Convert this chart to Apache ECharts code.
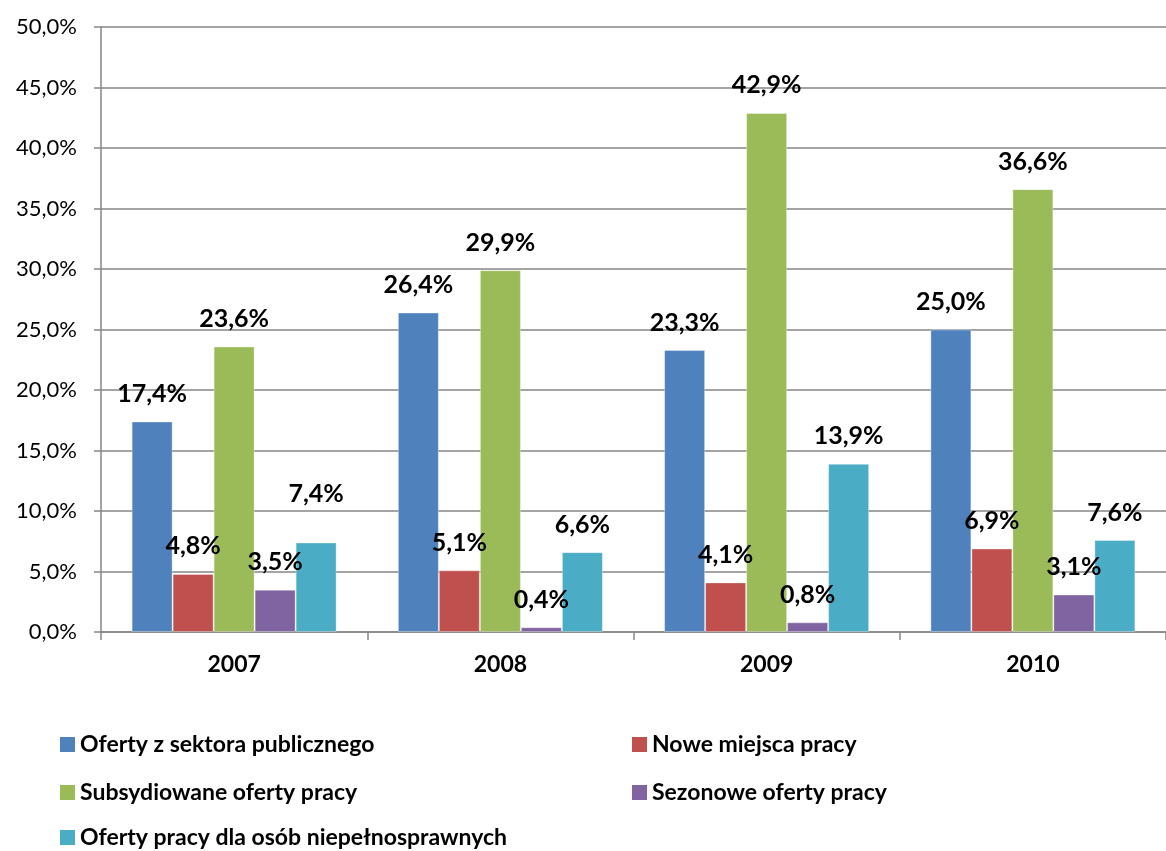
<!DOCTYPE html>
<html>
<head>
<meta charset="utf-8">
<script src="https://cdn.jsdelivr.net/npm/echarts@6/dist/echarts.min.js"></script>
<style>
html,body{margin:0;padding:0;background:#fff;}
#chart{width:1166px;height:851px;}
</style>
</head>
<body>
<div id="chart"></div>
<script>
const categories = ['2007', '2008', '2009', '2010'];
const seriesNames = [
  'Oferty z sektora publicznego',
  'Nowe miejsca pracy',
  'Subsydiowane oferty pracy',
  'Sezonowe oferty pracy',
  'Oferty pracy dla osób niepełnosprawnych'
];
const publicSector = [17.4, 26.4, 23.3, 25.0];
const newJobs = [4.8, 5.1, 4.1, 6.9];
const subsidized = [23.6, 29.9, 42.9, 36.6];
const seasonal = [3.5, 0.4, 0.8, 3.1];
const disabled = [7.4, 6.6, 13.9, 7.6];
const yTicks = [0, 5, 10, 15, 20, 25, 30, 35, 40, 45, 50];

const seriesValues = [publicSector, newJobs, subsidized, seasonal, disabled];
const colors = ['#4F81BD', '#C0504D', '#9BBB59', '#8064A2', '#4BACC6'];
// label distance overrides: [seriesIndex, dataIndex, distance]
const labelOverrides = [[4, 0, 36]];
// legend placement per series: [left, top]
const legendPlaces = [[60, 733], [632, 733], [60, 781], [632, 781], [60, 826]];

const fmt = v => v.toFixed(1).replace('.', ',') + '%';
const FONT = 'Lato';

const series = seriesValues.map((vals, si) => ({
  name: seriesNames[si],
  type: 'bar',
  barGap: '0%',
  barCategoryGap: '23%',
  itemStyle: { color: colors[si], borderColor: 'rgba(255,255,255,0.35)', borderWidth: 1 },
  label: {
    show: true,
    position: 'top',
    distance: 15,
    formatter: p => fmt(p.value),
    fontFamily: FONT,
    fontWeight: 'bold',
    fontSize: 25,
    color: '#000'
  },
  data: vals.map((v, di) => {
    const o = labelOverrides.find(r => r[0] === si && r[1] === di);
    return o ? { value: v, label: { distance: o[2] } } : v;
  })
}));

const legends = seriesNames.map((name, i) => ({
  orient: 'horizontal',
  left: legendPlaces[i][0],
  top: legendPlaces[i][1],
  icon: 'rect',
  itemWidth: 15,
  itemHeight: 15,
  itemGap: 8,
  padding: 0,
  itemStyle: { borderWidth: 0 },
  textStyle: { fontFamily: FONT, fontWeight: 'bold', fontSize: 23, color: '#000' },
  selectedMode: false,
  data: [name]
}));

const chart = echarts.init(document.getElementById('chart'));
chart.setOption({
  animation: false,
  backgroundColor: '#fff',
  grid: { left: 101, top: 27, bottom: 219, right: -12, containLabel: false },
  legend: legends,
  xAxis: {
    type: 'category',
    data: categories,
    axisLine: { lineStyle: { color: '#868686', width: 1.5 } },
    axisTick: { show: true, length: 8, lineStyle: { color: '#868686', width: 1.5 } },
    axisLabel: { fontFamily: FONT, fontWeight: 'bold', fontSize: 23, color: '#000', margin: 21 }
  },
  yAxis: {
    type: 'value',
    min: yTicks[0],
    max: yTicks[yTicks.length - 1],
    interval: yTicks[1] - yTicks[0],
    axisLine: { show: true, lineStyle: { color: '#868686', width: 1.5 } },
    axisTick: { show: true, length: 7, lineStyle: { color: '#868686', width: 1.5 } },
    splitLine: { lineStyle: { color: '#868686', width: 1.5 } },
    axisLabel: { fontFamily: FONT, fontSize: 22, color: '#000', margin: 24, formatter: v => fmt(v) }
  },
  series: series
});
</script>
</body>
</html>
